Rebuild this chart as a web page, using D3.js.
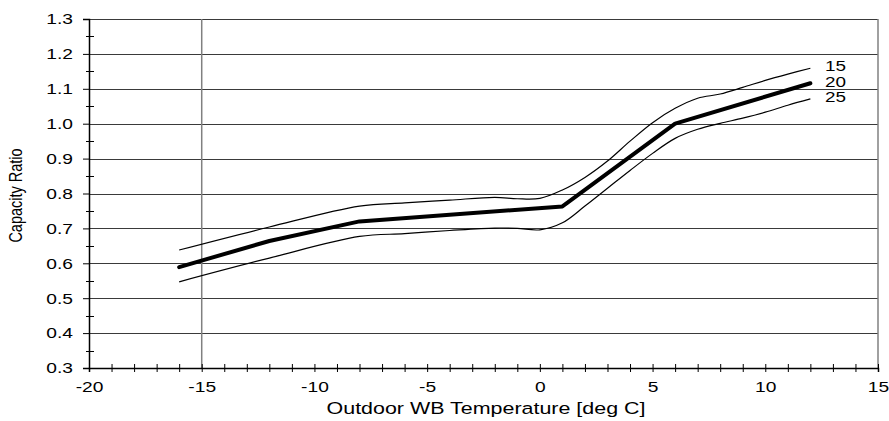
<!DOCTYPE html>
<html>
<head>
<meta charset="utf-8">
<script src="https://cdn.jsdelivr.net/npm/d3@7"></script>
<style>
  html, body { margin: 0; padding: 0; background: #fff; }
  svg { display: block; font-family: "Liberation Sans", Arial, sans-serif; }
</style>
</head>
<body>
<svg id="chart" width="889" height="421"></svg>
<script>
// Outdoor wet-bulb temperature [deg C] vs capacity ratio, one curve per indoor condition
const seriesNames = ["15", "20", "25"];

const temps15 = [-16, -12, -8, -6, -4, -2, -1, 0, 1, 2, 3, 4, 5, 6, 7, 8, 9, 10, 11, 12];
const ratio15 = [0.638, 0.704, 0.764, 0.773, 0.781, 0.789, 0.785, 0.786, 0.810, 0.846, 0.893, 0.950, 1.003, 1.044, 1.073, 1.085, 1.104, 1.124, 1.142, 1.159];

const temps20 = [-16, -12, -8, 1, 6, 12];
const ratio20 = [0.589, 0.664, 0.720, 0.763, 1.000, 1.116];

const temps25 = [-16, -12, -8, -6, -4, -2, -1, 0, 1, 2, 3, 4, 5, 6, 7, 8, 9, 10, 11, 12];
const ratio25 = [0.547, 0.615, 0.677, 0.685, 0.694, 0.701, 0.700, 0.696, 0.716, 0.764, 0.815, 0.866, 0.915, 0.958, 0.984, 1.001, 1.016, 1.033, 1.053, 1.071];

const xTickLabels = [-20, -15, -10, -5, 0, 5, 10, 15];
const yTickLabels = [0.3, 0.4, 0.5, 0.6, 0.7, 0.8, 0.9, 1.0, 1.1, 1.2, 1.3];

const svg = d3.select("#chart");
const plotLeft = 89, plotRight = 878, plotTop = 19, plotBottom = 368;
const stretch = 1.28;          // wide lettering used throughout the chart
const fontSize = "15px";

const x = d3.scaleLinear().domain([-20, 15]).range([plotLeft, plotRight]);
const y = d3.scaleLinear().domain([0.3, 1.3]).range([plotBottom, plotTop]);

// horizontal grid
svg.append("g").selectAll("line").data(yTickLabels.slice(1)).join("line")
  .attr("x1", plotLeft).attr("x2", plotRight)
  .attr("y1", d => Math.round(y(d)) + 0.5).attr("y2", d => Math.round(y(d)) + 0.5)
  .attr("stroke", "#3a3a3a").attr("stroke-width", 1);

// right frame edge and the reference line at -15
svg.append("line")
  .attr("x1", plotRight).attr("x2", plotRight).attr("y1", plotTop).attr("y2", plotBottom)
  .attr("stroke", "#808080").attr("stroke-width", 1.5);
svg.append("line")
  .attr("x1", x(-15)).attr("x2", x(-15)).attr("y1", plotTop).attr("y2", plotBottom)
  .attr("stroke", "#808080").attr("stroke-width", 1.5);

// y axis: major ticks with labels
const yAxis = svg.append("g").attr("transform", `translate(${plotLeft},0)`)
  .call(d3.axisLeft(y).tickValues(yTickLabels).tickFormat(d3.format(".1f")).tickSize(6).tickPadding(10));
// y minor ticks crossing the axis
const yMinor = d3.range(0.35, 1.3, 0.1);
svg.append("g").selectAll("line").data(yMinor).join("line")
  .attr("x1", plotLeft - 3).attr("x2", plotLeft + 5)
  .attr("y1", d => Math.round(y(d)) + 0.5).attr("y2", d => Math.round(y(d)) + 0.5)
  .attr("stroke", "#000").attr("stroke-width", 1);

// x axis: a tick each degree, labels every 5 (plain hyphen for negatives)
const xAxis = svg.append("g").attr("transform", `translate(0,${plotBottom})`)
  .call(d3.axisBottom(x).tickValues(d3.range(-20, 16))
    .tickFormat(d => xTickLabels.includes(d) ? String(d) : "")
    .tickSize(4).tickPadding(5));
xAxis.selectAll(".tick line").attr("y1", -4);

[yAxis, xAxis].forEach(g => {
  g.select(".domain").attr("stroke", "#000").attr("stroke-width", 1.5);
  g.selectAll(".tick line").attr("stroke", "#000").attr("stroke-width", 1);
  g.selectAll(".tick text").attr("fill", "#000").style("font-size", fontSize)
    .style("font-family", "'Liberation Sans', Arial, sans-serif")
    .each(function () {
      const t = d3.select(this);
      const x0 = +t.attr("x") || 0;
      t.attr("x", x0 / stretch).attr("transform", `scale(${stretch},1)`);
    });
});
xAxis.selectAll(".tick text").attr("y", 24).attr("dy", null);

// curves
const smooth = d3.line().x(d => x(d[0])).y(d => y(d[1])).curve(d3.curveCatmullRom.alpha(0.5));
const straight = d3.line().x(d => x(d[0])).y(d => y(d[1]));

const pts15 = temps15.map((t, i) => [t, ratio15[i]]);
const pts20 = temps20.map((t, i) => [t, ratio20[i]]);
const pts25 = temps25.map((t, i) => [t, ratio25[i]]);

svg.append("path").attr("d", smooth(pts15)).attr("fill", "none").attr("stroke", "#000").attr("stroke-width", 1.2);
svg.append("path").attr("d", smooth(pts25)).attr("fill", "none").attr("stroke", "#000").attr("stroke-width", 1.2);
svg.append("path").attr("d", straight(pts20)).attr("fill", "none").attr("stroke", "#000")
  .attr("stroke-width", 4).attr("stroke-linejoin", "round").attr("stroke-linecap", "round");

// curve labels at the right ends
const labelY = [71, 86.5, 102];
svg.append("g").selectAll("text").data(seriesNames).join("text")
  .attr("transform", (d, i) => `translate(825,${labelY[i]}) scale(1.35,1)`)
  .style("font-size", "14px").attr("fill", "#000").text(d => d);

// axis titles
svg.append("text").attr("transform", `translate(486,414) scale(1.3,1)`)
  .attr("text-anchor", "middle").style("font-size", "16.5px")
  .text("Outdoor WB Temperature [deg C]");
svg.append("text").attr("transform", `translate(22,${(plotTop + plotBottom) / 2 + 2}) rotate(-90) scale(1,${stretch})`)
  .attr("text-anchor", "middle").style("font-size", "14.5px")
  .text("Capacity Ratio");
</script>
</body>
</html>
